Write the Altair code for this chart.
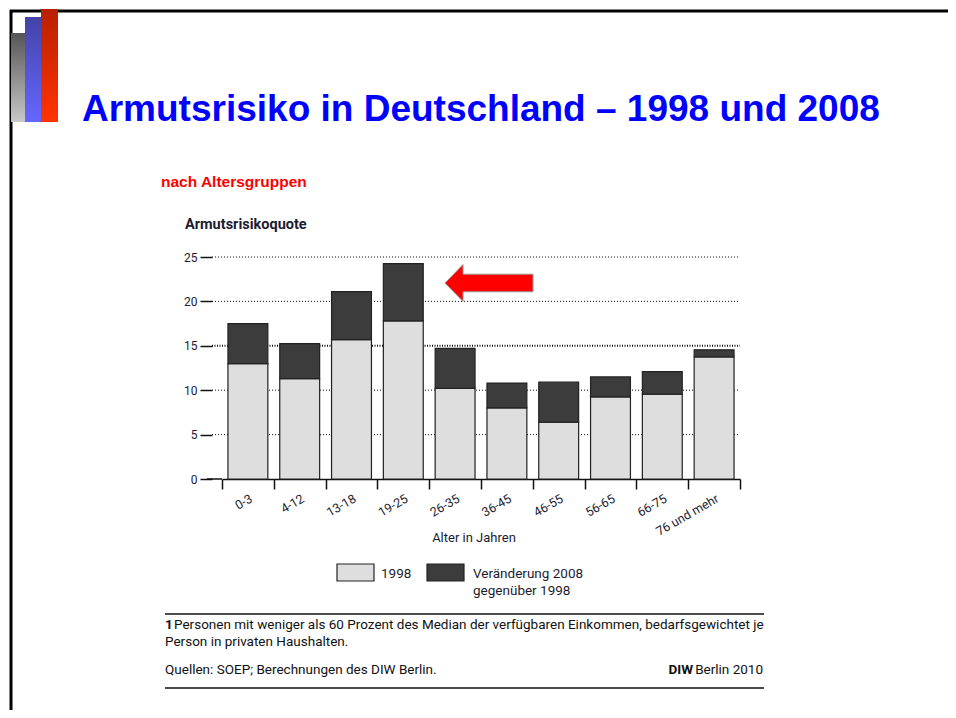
import altair as alt
import pandas as pd

# ---- data ----
ages = ["0-3", "4-12", "13-18", "19-25", "26-35", "36-45", "46-55", "56-65", "66-75", "76 und mehr"]
quote_1998 = [13.0, 11.3, 15.7, 17.8, 10.2, 8.0, 6.4, 9.25, 9.55, 13.75]
quote_2008 = [17.5, 15.25, 21.1, 24.25, 14.7, 10.8, 10.9, 11.5, 12.1, 14.55]
series = ["1998", "Veränderung 2008 gegenüber 1998"]
y_ticks = [0, 5, 10, 15, 20, 25]

rows = []
for a, v98, v08 in zip(ages, quote_1998, quote_2008):
    rows.append({"Alter": a, "Serie": series[0], "Wert": v98, "ord": 0})
    rows.append({"Alter": a, "Serie": series[1], "Wert": round(v08 - v98, 3), "ord": 1})
df = pd.DataFrame(rows)
grid_df = pd.DataFrame({"y": [v for v in y_ticks if v > 0 and v != 15]})
grid15 = pd.DataFrame({"y": [15]})

W, H = 518, 222
OX, OY = 222, 257  # page position of plot area origin
TXT = "#1c1c30"
FONT = "Roboto"
one = pd.DataFrame({"k": [0]})

color = alt.Color("Serie:N", scale=alt.Scale(domain=series, range=["#dedede", "#3c3c3c"]), legend=None)


def px(x):
    return x - OX


def py(y):
    return y - OY


def text(t, x, y, **kw):
    return alt.Chart(one).mark_text(text=t, baseline="alphabetic", **kw).encode(
        x=alt.value(px(x)), y=alt.value(py(y)))


def rect(x1, x2, y1, y2, **kw):
    return alt.Chart(one).mark_rect(**kw).encode(
        x=alt.value(px(x1)), x2=alt.value(px(x2)), y=alt.value(py(y1)), y2=alt.value(py(y2)))


def rule(x1, x2, y1, y2, **kw):
    return alt.Chart(one).mark_rule(**kw).encode(
        x=alt.value(px(x1)), x2=alt.value(px(x2)), y=alt.value(py(y1)), y2=alt.value(py(y2)))


def grad(c1, c2):
    return {"gradient": "linear", "x1": 0, "y1": 0, "x2": 0, "y2": 1,
            "stops": [{"offset": 0, "color": c1}, {"offset": 1, "color": c2}]}


yscale = alt.Scale(domain=[0, 25], nice=False)

grid = alt.Chart(grid_df).mark_rule(color="#111", strokeDash=[1, 2], strokeWidth=1).encode(
    y=alt.Y("y:Q", scale=yscale), x=alt.value(-10), x2=alt.value(W))
grid_b = alt.Chart(grid15).mark_rule(color="#111", strokeDash=[1, 1.5], strokeWidth=2).encode(
    y=alt.Y("y:Q", scale=yscale), x=alt.value(-10), x2=alt.value(W))

bars = alt.Chart(df).mark_bar(width=alt.RelativeBandSize(0.77), stroke="#222", strokeWidth=1.2).encode(
    x=alt.X("Alter:N", sort=ages, scale=alt.Scale(paddingInner=0, paddingOuter=0),
            axis=alt.Axis(title=None, tickBand="extent", domainColor="#111", domainWidth=1.5,
                          tickColor="#111", tickWidth=1.5, tickSize=10, labelAngle=-30,
                          labelAlign="right", labelBaseline="top", labelPadding=3,
                          labelFont=FONT, labelFontSize=12.5, labelColor=TXT)),
    y=alt.Y("Wert:Q", stack="zero", scale=yscale,
            axis=alt.Axis(title=None, values=y_ticks, grid=False, domain=False, offset=10,
                          tickSize=12, tickWidth=1.5, tickColor="#111", labelPadding=3,
                          labelFont=FONT, labelFontSize=12, labelColor=TXT)),
    color=color,
    order=alt.Order("ord:Q"),
)

axis_ext = rule(207, 222, 479, 479, color="#111", strokeWidth=1.5)

arrow_path = "M -1 0 L -0.59 -0.42 L -0.59 -0.2 L 1 -0.2 L 1 0.2 L -0.59 0.2 L -0.59 0.42 Z"
arrow = alt.Chart(one).mark_point(shape=arrow_path, filled=True, fill="#ff0000", stroke="#9a9a9a",
                                  strokeWidth=1, opacity=1, size=88 * 88).encode(
    x=alt.value(px(489)), y=alt.value(py(283)))

leg1 = rect(337, 374, 564, 581, fill="#dedede", stroke="#222", strokeWidth=1.2)
leg2 = rect(427, 464, 564, 581, fill="#3c3c3c", stroke="#222", strokeWidth=1.2)

FN = 13.5
texts = [
    text("Armutsrisiko in Deutschland – 1998 und 2008", 82, 121, font="Liberation Sans",
         fontSize=37, fontWeight="bold", color="#0000ff", align="left"),
    text("nach Altersgruppen", 161, 187, font="Liberation Sans", fontSize=15.5, fontWeight="bold",
         color="#ff0000", align="left"),
    text("Armutsrisikoquote", 185, 229, font=FONT, fontSize=14.5, fontWeight="bold", color=TXT, align="left"),
    text("Alter in Jahren", 474, 542, font=FONT, fontSize=13, color=TXT, align="center"),
    text("1998", 381, 578, font=FONT, fontSize=13.5, color=TXT, align="left"),
    text("Veränderung 2008", 473, 578, font=FONT, fontSize=13.5, color=TXT, align="left"),
    text("gegenüber 1998", 473, 595, font=FONT, fontSize=13.5, color=TXT, align="left"),
    text("1", 165, 629, font=FONT, fontSize=FN, fontWeight="bold", color="#111", align="left"),
    text("Personen mit weniger als 60 Prozent des Median der verfügbaren Einkommen, bedarfsgewichtet je",
         174, 629, font=FONT, fontSize=FN, color="#111", align="left"),
    text("Person in privaten Haushalten.", 165, 646, font=FONT, fontSize=FN, color="#111", align="left"),
    text("Quellen: SOEP; Berechnungen des DIW Berlin.", 165, 674, font=FONT, fontSize=FN, color="#111",
         align="left"),
    text("DIW", 693, 674, font=FONT, fontSize=FN, fontWeight="bold", color="#111", align="right"),
    text("Berlin 2010", 763, 674, font=FONT, fontSize=FN, color="#111", align="right"),
]

deco = [
    rule(10, 956, 11, 11, color="#000", strokeWidth=3),
    rule(11, 11, 10, 718, color="#000", strokeWidth=3),
    rect(11, 25, 33, 122, fill=grad("#555555", "#c8c8c8")),
    rect(25, 41, 17, 122, fill=grad("#4343a8", "#6666ff")),
    rect(41, 58, 9, 122, fill=grad("#b82000", "#ff3300")),
    rule(165, 764, 614, 614, color="#111", strokeWidth=1.5),
    rule(165, 764, 688, 688, color="#111", strokeWidth=1.5),
]

chart = alt.layer(grid, grid_b, bars, axis_ext, arrow, leg1, leg2, *texts, *deco).properties(
    width=W, height=H,
    autosize=alt.AutoSizeParams(type="none"),
    padding={"left": 214, "top": 249, "right": 208, "bottom": 231},
    background="white",
).configure_view(stroke=None)

chart.save("out.html", embed_options={"renderer": "svg", "actions": False})
